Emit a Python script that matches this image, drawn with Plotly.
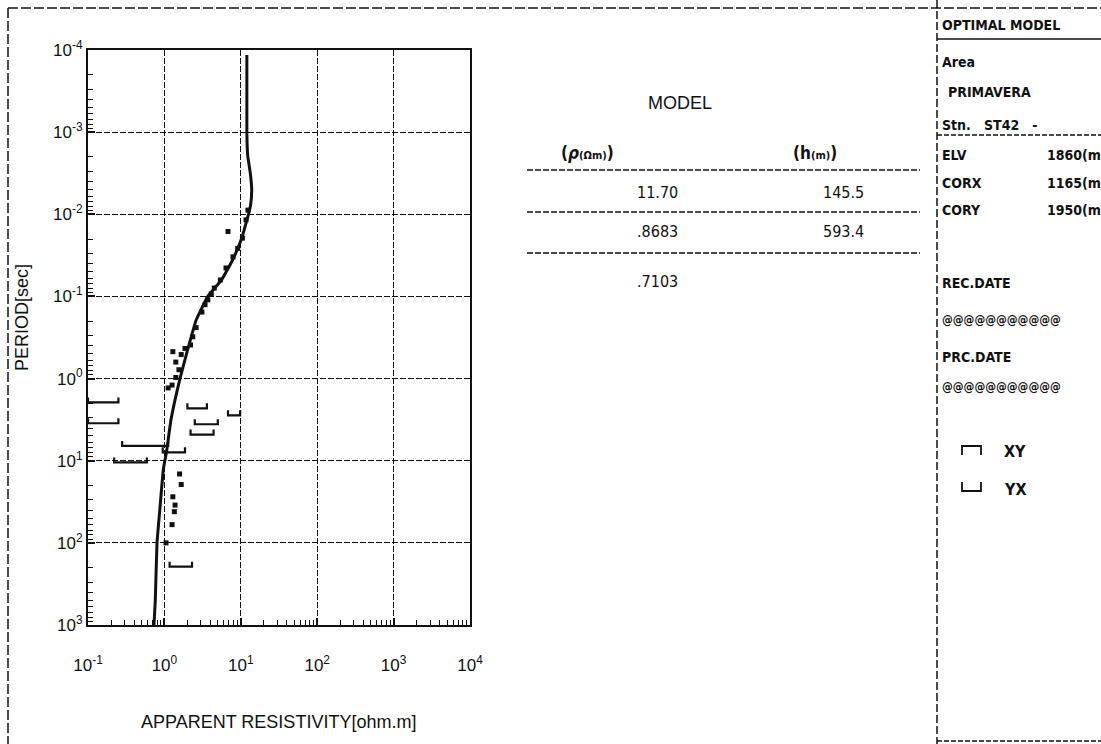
import plotly.graph_objects as go

W, H = 1101, 744

# Fitted 1-D model response: period [s] and apparent resistivity [ohm.m]
curve_period = [1.15e-4, 1.0e-3, 1.9e-3, 3.3e-3, 5.1e-3, 7.8e-3, 1.0e-2, 1.58e-2,
                2.1e-2, 3.6e-2, 6.3e-2, 0.1, 0.195, 0.457, 1.0, 3.16, 7.6,
                12.6, 39.8, 100.0, 501.0, 1000.0]
curve_rho = [12.0, 12.0, 12.3, 13.4, 13.9, 13.4, 12.6, 11.0, 10.0, 7.8, 5.6,
             3.7, 2.6, 2.0, 1.6, 1.22, 1.07, 0.97, 0.87, 0.80, 0.76, 0.73]

# Observed apparent resistivity samples
obs_period = [0.0162, 0.0089, 0.0117, 0.0195, 0.026, 0.033, 0.045, 0.063, 0.079,
              0.093, 0.11, 0.126, 0.155, 0.24, 0.31, 0.39, 0.43, 0.51, 0.47,
              0.63, 0.78, 0.97, 1.2, 1.3, 14.5, 19.5, 27.5, 34.7, 41.7, 60.0, 100.0]
obs_rho = [6.8, 12.4, 11.7, 10.5, 9.1, 7.9, 6.4, 5.4, 4.5, 4.1, 3.7, 3.4, 3.1,
           2.6, 2.35, 2.2, 1.86, 1.66, 1.29, 1.41, 1.55, 1.41, 1.26, 1.12,
           1.58, 1.66, 1.29, 1.38, 1.35, 1.26, 1.05]

# Samples with wide resistivity ranges: period, lower and upper resistivity
bar_period = [1.95, 3.5, 6.6, 7.9, 10.5, 2.3, 3.6, 4.8, 2.8, 195.0]
bar_rho_lo = [0.1, 0.1, 0.28, 0.95, 0.22, 2.0, 2.5, 2.2, 6.8, 1.17]
bar_rho_hi = [0.25, 0.25, 1.12, 1.86, 0.59, 3.6, 5.0, 4.4, 9.8, 2.3]

# Layered model table
model_rho = ["11.70", ".8683", ".7103"]
model_h = ["145.5", "593.4"]

x_decades = [-1, 0, 1, 2, 3, 4]
y_decades = [-4, -3, -2, -1, 0, 1, 2, 3]

BLACK = "#111111"
FONT = "Liberation Sans, Arial, sans-serif"
COND = "Liberation Sans Narrow, DejaVu Sans Condensed, Roboto, sans-serif"


def px(x):
    return x / W


def py(y):
    return 1 - y / H


fig = go.Figure()

# Range bars drawn as bracket shapes with short upturned ends
bx, by = [], []
for T, lo, hi in zip(bar_period, bar_rho_lo, bar_rho_hi):
    bx += [lo, lo, hi, hi, None]
    by += [T * 0.87, T, T, T * 0.87, None]
fig.add_trace(go.Scatter(x=bx, y=by, mode="lines", line=dict(color=BLACK, width=2.2),
                         showlegend=False, hoverinfo="skip"))

fig.add_trace(go.Scatter(x=obs_rho, y=obs_period, mode="markers",
                         marker=dict(symbol="square", size=5, color=BLACK),
                         showlegend=False))

fig.add_trace(go.Scatter(x=curve_rho, y=curve_period, mode="lines",
                         line=dict(color=BLACK, width=3, shape="spline", smoothing=0.35),
                         showlegend=False))

minor_x = [m * 10 ** d for d in x_decades[:-1] for m in range(2, 10)]
minor_y = [m * 10 ** d for d in y_decades[:-1] for m in range(2, 10)]

fig.update_xaxes(
    type="log", range=[-1, 4],
    domain=[px(88), px(470)], anchor="y",
    tickvals=[10 ** d for d in x_decades],
    ticktext=["10<sup>%d</sup>" % d for d in x_decades],
    ticks="inside", ticklen=7, tickwidth=1.5, tickcolor=BLACK,
    minor=dict(tickvals=minor_x, ticks="inside", ticklen=5, tickwidth=1.3,
               tickcolor=BLACK, showgrid=False),
    showgrid=True, gridcolor=BLACK, gridwidth=1.3, griddash="6px,2px",
    showline=True, linecolor=BLACK, linewidth=2, mirror=True,
    tickfont=dict(family=FONT, size=17, color=BLACK),
    ticklabelstandoff=24,
    zeroline=False, automargin=False,
)
fig.update_yaxes(
    type="log", range=[3, -4],
    domain=[py(625), py(50)], anchor="x",
    tickvals=[10 ** d for d in y_decades],
    ticktext=["10<sup>%d</sup>" % d for d in y_decades],
    ticks="inside", ticklen=7, tickwidth=1.5, tickcolor=BLACK,
    minor=dict(tickvals=minor_y, ticks="inside", ticklen=5, tickwidth=1.3,
               tickcolor=BLACK, showgrid=False),
    showgrid=True, gridcolor=BLACK, gridwidth=1.3, griddash="6px,2px",
    showline=True, linecolor=BLACK, linewidth=2, mirror=True,
    tickfont=dict(family=FONT, size=17, color=BLACK),
    zeroline=False, automargin=False,
)

ann = []
shapes = []


def text(x, y, s, size=13, anchor="left", family=FONT, angle=0):
    ann.append(dict(x=px(x), y=py(y), xref="paper", yref="paper", text=s,
                    showarrow=False, xanchor=anchor, yanchor="middle",
                    textangle=angle, font=dict(family=family, size=size, color=BLACK)))


def hline(x0, x1, y, width=1.5, dash="solid"):
    shapes.append(dict(type="line", xref="paper", yref="paper", x0=px(x0), x1=px(x1),
                       y0=py(y), y1=py(y), line=dict(color=BLACK, width=width, dash=dash)))


def vline(x, y0, y1, width=1.5, dash="solid"):
    shapes.append(dict(type="line", xref="paper", yref="paper", x0=px(x), x1=px(x),
                       y0=py(y0), y1=py(y1), line=dict(color=BLACK, width=width, dash=dash)))


# Axis titles
text(22, 318, "PERIOD[sec]", size=18, anchor="center", angle=-90)
text(278, 722, "APPARENT RESISTIVITY[ohm.m]", size=18, anchor="center")

# Model table
text(680, 103, "MODEL", size=18, anchor="center")
text(587, 153, "<b>(<i>ρ</i><span style='font-size:11px'>(Ωm)</span>)</b>", size=17,
     anchor="center", family=COND)
text(815, 153, "<b>(h<span style='font-size:11px'>(m)</span>)</b>", size=17,
     anchor="center", family=COND)
row_y = [192, 231, 281]
for i, r in enumerate(model_rho):
    text(680, row_y[i], r, size=16, anchor="right", family=COND)
for i, h in enumerate(model_h):
    text(866, row_y[i], h, size=16, anchor="right", family=COND)
for y in [170, 212, 253]:
    hline(527, 920, y, width=1.3, dash="6px,2px")

# Page frame and info panel
hline(8, W, 8, width=1.5, dash="10px,3px")
vline(8, 8, H, width=1.5, dash="10px,3px")
vline(937, 0, H, width=1.5, dash="8px,3px")
hline(937, W, 39, width=1.5)
hline(937, W, 135, width=1.3, dash="5px,2px")
hline(937, W, 741, width=1.3, dash="5px,2px")

PS = 14
text(940, 25, "<b>OPTIMAL MODEL</b>", size=PS, family=COND)
text(940, 62, "<b>Area</b>", size=PS, family=COND)
text(946, 92, "<b>PRIMAVERA</b>", size=PS, family=COND)
text(940, 125, "<b>Stn.   ST42   -</b>", size=PS, family=COND)
text(940, 155, "<b>ELV</b>", size=PS, family=COND)
text(1103, 155, "<b>1860(m</b>", size=PS, family=COND, anchor="right")
text(940, 183, "<b>CORX</b>", size=PS, family=COND)
text(1103, 183, "<b>1165(m</b>", size=PS, family=COND, anchor="right")
text(940, 210, "<b>CORY</b>", size=PS, family=COND)
text(1103, 210, "<b>1950(m</b>", size=PS, family=COND, anchor="right")
text(940, 283, "<b>REC.DATE</b>", size=PS, family=COND)
text(940, 320, "<b>@@@@@@@@@@@</b>", size=12, family=COND)
text(940, 357, "<b>PRC.DATE</b>", size=PS, family=COND)
text(940, 387, "<b>@@@@@@@@@@@</b>", size=12, family=COND)

# Legend symbols
fig.add_shape(type="path", xref="paper", yref="paper",
              path="M %f %f L %f %f L %f %f L %f %f" % (px(962), py(455), px(962), py(446),
                                                      px(981), py(446), px(981), py(455)),
              line=dict(color=BLACK, width=1.8))
fig.add_shape(type="path", xref="paper", yref="paper",
              path="M %f %f L %f %f L %f %f L %f %f" % (px(962), py(482), px(962), py(491),
                                                      px(981), py(491), px(981), py(482)),
              line=dict(color=BLACK, width=1.8))
text(1002, 451, "<b>XY</b>", size=16, family=COND)
text(1002, 489, "<b>YX</b>", size=16, family=COND)

for s in shapes:
    fig.add_shape(**s)

fig.update_layout(
    width=W, height=H,
    margin=dict(l=0, r=0, t=0, b=0),
    paper_bgcolor="white", plot_bgcolor="white",
    annotations=ann, showlegend=False,
)

fig.write_html("out.html")
